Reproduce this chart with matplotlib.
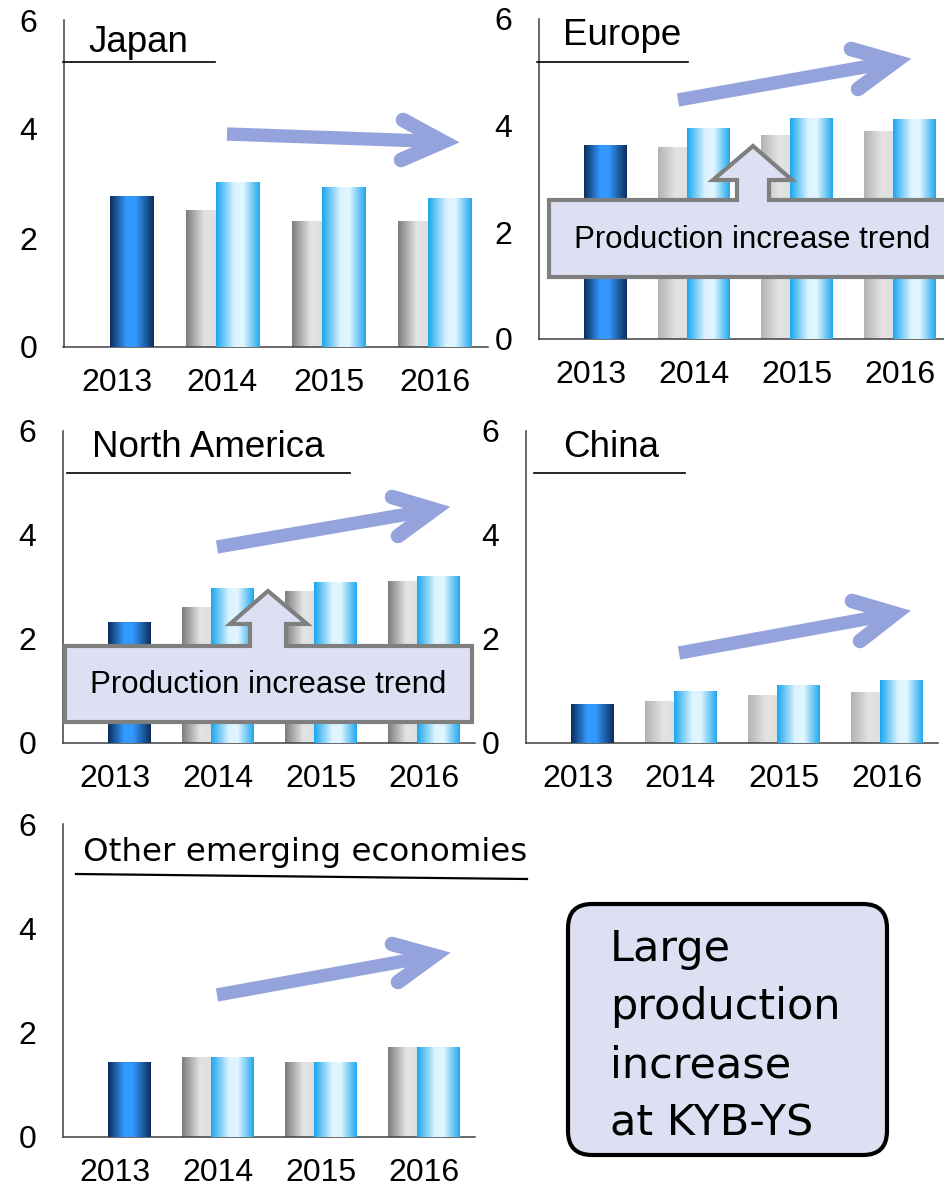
"""
plot.py - KYB production outlook by region, 2013-2016 (5 small bar panels).
"""

import matplotlib.pyplot as plt
from matplotlib.colors import LinearSegmentedColormap
from matplotlib.patches import FancyBboxPatch, Polygon
import numpy as np

W, H = 944, 1187

years = ["2013", "2014", "2015", "2016"]
yticks = [0, 2, 4, 6]

# 2013 actual (dark bar), previous plan (gray), new plan (light blue)
japan_actual = [2.77, np.nan, np.nan, np.nan]
japan_prev = [np.nan, 2.51, 2.31, 2.31]
japan_new = [np.nan, 3.01, 2.92, 2.72]

europe_actual = [3.62, np.nan, np.nan, np.nan]
europe_prev = [np.nan, 3.60, 3.81, 3.90]
europe_new = [np.nan, 3.94, 4.13, 4.11]

namerica_actual = [2.32, np.nan, np.nan, np.nan]
namerica_prev = [np.nan, 2.61, 2.92, 3.11]
namerica_new = [np.nan, 2.97, 3.09, 3.20]

china_actual = [0.75, np.nan, np.nan, np.nan]
china_prev = [np.nan, 0.79, 0.91, 0.98]
china_new = [np.nan, 1.00, 1.10, 1.20]

other_actual = [1.42, np.nan, np.nan, np.nan]
other_prev = [np.nan, 1.52, 1.42, 1.71]
other_new = [np.nan, 1.52, 1.42, 1.71]

callout_text = "Production increase trend"
note_lines = ["Large", "production", "increase", "at KYB-YS"]

ARROW_C = "#95a3dc"
BOX_FILL = "#dce0f2"

plt.rcParams["font.family"] = ["Liberation Sans", "DejaVu Sans"]

CM_DARK = LinearSegmentedColormap.from_list(
    "dark", [(0, "#0b2d5a"), (0.38, "#3399ff"), (0.58, "#3399ff"), (1, "#0b2d5a")])
CM_BLUE = LinearSegmentedColormap.from_list(
    "blue", [(0, "#18a6ee"), (0.42, "#dcf3ff"), (0.62, "#e2f6ff"), (1, "#1ea8ee")])
CM_GRAY = LinearSegmentedColormap.from_list(
    "gray", [(0, "#7c7c7c"), (0.42, "#e3e3e3"), (0.7, "#dedede"), (1, "#a0a0a0")])
CM_GRAY_LT = LinearSegmentedColormap.from_list(
    "graylt", [(0, "#b3b3b3"), (0.42, "#e3e3e3"), (0.7, "#dedede"), (1, "#b0b0b0")])


def px_axes(fig, x0, y0, x1, y1):
    return fig.add_axes([x0 / W, 1 - y1 / H, (x1 - x0) / W, (y1 - y0) / H])


def gradient_bars(ax, xs, vals, width, cmap, z):
    bars = ax.bar(xs, vals, width, color="none", zorder=z)
    grad = np.linspace(0, 1, 256).reshape(1, -1)
    for b in bars:
        h = b.get_height()
        if not np.isfinite(h):
            continue
        x0, w = b.get_x(), b.get_width()
        ax.imshow(grad, cmap=cmap, extent=[x0, x0 + w, 0, h], aspect="auto",
                  interpolation="bilinear", zorder=z)


def draw_panel(ax, actual, prev, new, gray_cmap):
    x = np.arange(len(years))
    bw, off = 0.41, 0.14
    gradient_bars(ax, x - off, prev, bw, gray_cmap, 2)
    gradient_bars(ax, x + off, new, bw, CM_BLUE, 3)
    gradient_bars(ax, x + off, actual, bw, CM_DARK, 3)
    ax.set_xlim(-0.5, 3.5)
    ax.set_ylim(0, 6)
    ax.set_xticks(x)
    ax.set_xticklabels(years)
    ax.set_yticks(yticks)
    ax.tick_params(length=0, labelsize=23)
    ax.tick_params(axis="y", pad=19)
    ax.tick_params(axis="x", pad=15)
    ax.patch.set_alpha(0)
    for s in ("top", "right"):
        ax.spines[s].set_visible(False)
    for s in ("left", "bottom"):
        ax.spines[s].set_color("#404040")
        ax.spines[s].set_linewidth(1.1)


def trend_arrow(ov, start, tip, b1, b2):
    start, tip = np.array(start, float), np.array(tip, float)
    d = (tip - start) / np.linalg.norm(tip - start)
    v = tip - 9 * d
    ov.plot([start[0], v[0] - 6 * d[0]], [start[1], v[1] - 6 * d[1]], color=ARROW_C,
            lw=9.6, solid_capstyle="butt")
    ov.plot([b1[0], v[0], b2[0]], [b1[1], v[1], b2[1]], color=ARROW_C, lw=10.5,
            solid_capstyle="round", solid_joinstyle="miter")


def callout(ov, box, shaft, head_y, head_x, tip, text_xy):
    x0, y0, x1, y1 = box
    sx0, sx1 = shaft
    hx0, hx1 = head_x
    pts = [(x0, y0), (sx0, y0), (sx0, head_y), (hx0, head_y), tip,
           (hx1, head_y), (sx1, head_y), (sx1, y0), (x1, y0), (x1, y1), (x0, y1)]
    ov.add_patch(Polygon(pts, closed=True, facecolor=BOX_FILL, edgecolor="#7f7f7f",
                         lw=3.0, joinstyle="miter"))
    ov.text(*text_xy, callout_text, fontsize=22.5, ha="center", va="center")


fig = plt.figure(figsize=(W / 100, H / 100), dpi=100)
fig.patch.set_facecolor("white")

panels = [
    ((63.5, 20, 487.5, 347), japan_actual, japan_prev, japan_new, CM_GRAY),
    ((539, 19, 951, 339), europe_actual, europe_prev, europe_new, CM_GRAY_LT),
    ((63, 431, 475, 743), namerica_actual, namerica_prev, namerica_new, CM_GRAY),
    ((526, 431, 938, 743), china_actual, china_prev, china_new, CM_GRAY_LT),
    ((63, 824, 475, 1137), other_actual, other_prev, other_new, CM_GRAY),
]
for rect, a, p, n, gcm in panels:
    ax = px_axes(fig, *rect)
    draw_panel(ax, a, p, n, gcm)

# overlay in pixel coordinates for titles, arrows and callouts
ov = fig.add_axes([0, 0, 1, 1], zorder=10)
ov.set_xlim(0, W)
ov.set_ylim(H, 0)
ov.axis("off")
ov.patch.set_alpha(0)

titles = [
    ("Japan", 88, 52, (63, 62), (215, 62)),
    ("Europe", 563, 45, (537, 62), (688, 62)),
    ("North America", 92, 457, (67, 473), (350, 473)),
    ("China", 563, 457, (534, 473), (685, 473)),
]
for t, tx, ty, p0, p1 in titles:
    ov.text(tx, ty, t, fontsize=26.5, ha="left", va="baseline")
    ov.plot([p0[0], p1[0]], [p0[1], p1[1]], color="black", lw=1.2)
ov.text(83, 861, "Other emerging economies", fontsize=23.4, family="DejaVu Sans",
        ha="left", va="baseline")
ov.plot([76, 527], [874, 879], color="black", lw=1.6)

arrows = [
    ((227, 134), (452, 142), (403, 120), (401, 160)),
    ((678, 100), (904, 60), (851, 49), (858, 89)),
    ((217, 547), (443, 508), (392, 497), (398, 536)),
    ((679, 653), (904, 612), (852, 601), (860, 641)),
    ((217, 995), (443, 954), (392, 944), (398, 982)),
]
for a in arrows:
    trend_arrow(ov, *a)

callout(ov, (549, 200, 958, 277), (737, 769), 180, (713, 792), (753, 146), (752, 240))
callout(ov, (65, 646, 472, 722), (250, 286), 624, (230, 307), (268, 591), (268, 685))

ov.add_patch(FancyBboxPatch((568, 904), 319, 251, boxstyle="round,pad=0,rounding_size=24",
                            facecolor=BOX_FILL, edgecolor="black", lw=3.0))
for i, line in enumerate(note_lines):
    ov.text(610, 961 + i * 58.3, line, fontsize=31, family="DejaVu Sans",
            ha="left", va="baseline")

fig.savefig("out.png", dpi=100)
